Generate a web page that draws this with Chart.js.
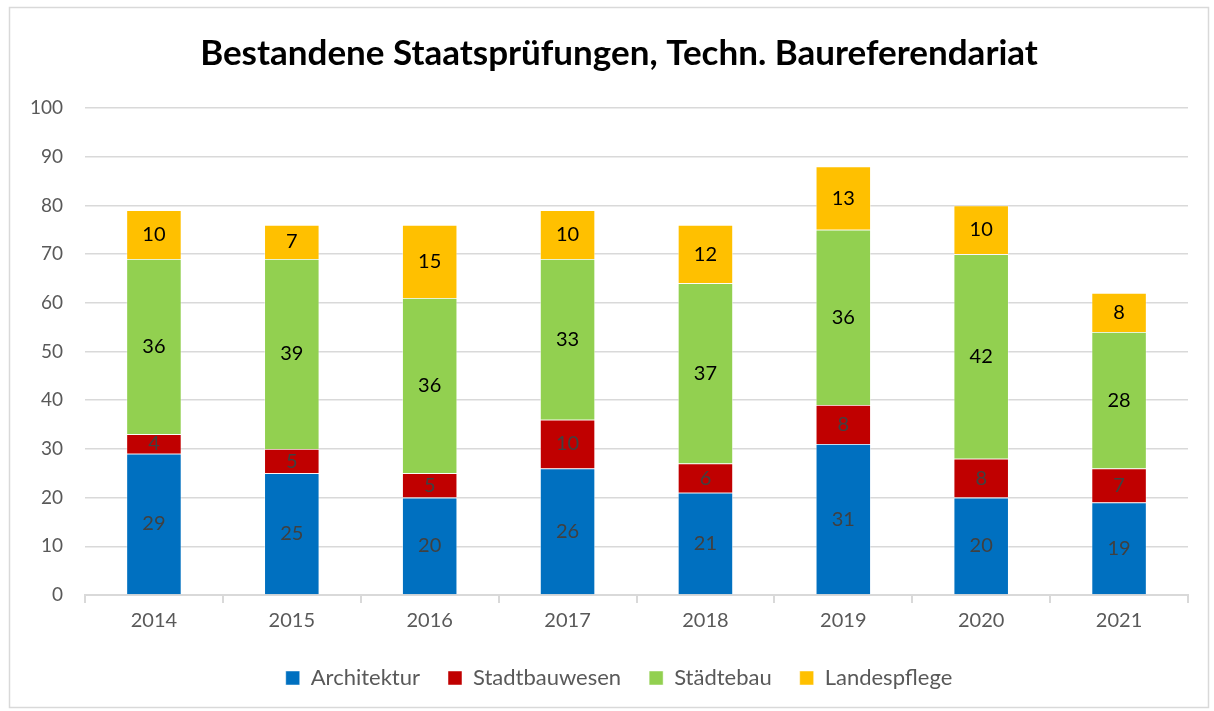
<!DOCTYPE html>
<html>
<head>
<meta charset="utf-8">
<script src="https://cdn.jsdelivr.net/npm/chart.js@4"></script>
<style>
  html, body { margin: 0; padding: 0; background: #fff; }
  #wrap { position: absolute; left: 0; top: 0; width: 1214px; height: 711px; }
</style>
</head>
<body>
<div id="wrap"><canvas id="staatspruefungen"></canvas></div>
<script>
const years = ["2014", "2015", "2016", "2017", "2018", "2019", "2020", "2021"];
const architektur = [29, 25, 20, 26, 21, 31, 20, 19];
const stadtbauwesen = [4, 5, 5, 10, 6, 8, 8, 7];
const staedtebau = [36, 39, 36, 33, 37, 36, 42, 28];
const landespflege = [10, 7, 15, 10, 12, 13, 10, 8];
const yTicks = [0, 10, 20, 30, 40, 50, 60, 70, 80, 90, 100];

const FONT = "Lato, 'Open Sans', sans-serif";

// draws the value in the middle of each bar segment
const segmentLabels = {
    id: "segmentLabels",
    afterDatasetsDraw(chart) {
        const ctx = chart.ctx;
        ctx.save();
        ctx.font = "20px " + FONT;
        ctx.textAlign = "center";
        ctx.textBaseline = "middle";
        chart.data.datasets.forEach((ds, i) => {
            const meta = chart.getDatasetMeta(i);
            meta.data.forEach((bar, j) => {
                ctx.fillStyle = ds.labelColor;
                ctx.fillText(ds.data[j], bar.x, (bar.y + bar.base) / 2);
            });
        });
        ctx.restore();
    }
};

// light grey frame around the whole chart
const frame = {
    id: "frame",
    beforeDraw(chart) {
        const ctx = chart.ctx;
        ctx.save();
        ctx.fillStyle = "#fff";
        ctx.fillRect(0, 0, chart.width, chart.height);
        ctx.strokeStyle = "#d9d9d9";
        ctx.lineWidth = 1.5;
        ctx.strokeRect(9.5, 7.5, 1199, 700);
        ctx.restore();
    }
};

// the y labels sit left of the layout padding; widen the axis box so they are not clipped
const widenY = {
    id: "widenY",
    afterLayout(chart) {
        chart.scales.y.left = 10;
    }
};

const ctx = document.getElementById("staatspruefungen");

new Chart(ctx, {
    type: "bar",
    data: {
        labels: years,
        datasets: [
            { label: "Architektur", data: architektur, backgroundColor: "#0070C0", labelColor: "#404040" },
            { label: "Stadtbauwesen", data: stadtbauwesen, backgroundColor: "#C00000", labelColor: "#404040" },
            { label: "Städtebau", data: staedtebau, backgroundColor: "#92D050", labelColor: "#000000" },
            { label: "Landespflege", data: landespflege, backgroundColor: "#FFC000", labelColor: "#000000" }
        ]
    },
    options: {
        responsive: true,
        maintainAspectRatio: false,
        animation: false,
        datasets: {
            bar: {
                barPercentage: 0.4,
                categoryPercentage: 1.0,
                borderColor: "rgba(255,255,255,0.6)",
                borderWidth: 0.8
            }
        },
        layout: { padding: { left: 50, right: 26, top: 27, bottom: 12 } },
        plugins: {
            title: {
                display: true,
                text: "Bestandene Staatsprüfungen, Techn. Baureferendariat",
                color: "#000",
                font: { family: FONT, size: 35, weight: "bold" },
                padding: { top: 6, bottom: 33 }
            },
            legend: {
                display: true,
                position: "bottom",
                labels: {
                    color: "#595959",
                    font: { family: FONT, size: 22 },
                    boxWidth: 14,
                    boxHeight: 14,
                    padding: 28
                }
            },
            tooltip: { enabled: false }
        },
        scales: {
            x: {
                stacked: true,
                grid: {
                    display: true,
                    offset: true,
                    drawOnChartArea: false,
                    drawTicks: true,
                    tickLength: 8,
                    color: "#d9d9d9",
                    lineWidth: 2
                },
                border: { display: true, color: "#d9d9d9", width: 2 },
                ticks: { color: "#595959", font: { family: FONT, size: 20 }, padding: 6 }
            },
            y: {
                stacked: true,
                min: 0,
                max: 100,
                afterBuildTicks(axis) {
                    axis.ticks = yTicks.map(v => ({ value: v }));
                },
                afterFit(axis) {
                    axis.width = 35;
                },
                grid: { color: "#d9d9d9", lineWidth: 1.5, drawTicks: false },
                border: { display: false },
                ticks: { color: "#595959", font: { family: FONT, size: 19 }, padding: 22 }
            }
        }
    },
    plugins: [frame, widenY, segmentLabels]
});
</script>
</body>
</html>
